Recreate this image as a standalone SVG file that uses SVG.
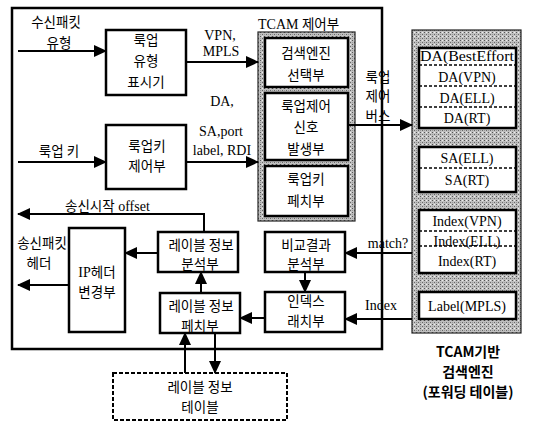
<svg xmlns="http://www.w3.org/2000/svg" width="535" height="422" viewBox="0 0 535 422">
<style>
text{font-family:"Liberation Serif","Noto Sans CJK KR",serif;font-size:14px;fill:#000}
.k{font-family:"Noto Sans CJK KR","Liberation Sans",sans-serif;font-size:13.5px}
.c{text-anchor:middle}
.box{fill:#fff;stroke:#000;stroke-width:2.5}
.hat{fill:url(#hp);stroke:#222;stroke-width:1.2}
.ln{fill:none;stroke:#000;stroke-width:2}
.dl{stroke:#000;stroke-width:1.5;stroke-dasharray:3 2}
.cap{font-family:"Noto Sans CJK KR","Liberation Sans",sans-serif;font-weight:bold;font-size:14px}
</style>
<defs>
<pattern id="hp" width="4" height="4" patternUnits="userSpaceOnUse">
<rect width="4" height="4" fill="#c0c0c0"/>
<rect width="1" height="1" fill="#555"/>
<rect x="2" y="2" width="1" height="1" fill="#666"/>
<rect x="2" y="0" width="1" height="1" fill="#eee"/>
<rect x="0" y="2" width="1" height="1" fill="#999"/>
</pattern>
<marker id="ah" markerWidth="13" markerHeight="12" refX="12" refY="6" orient="auto" markerUnits="userSpaceOnUse">
<path d="M0,0 L13,6 L0,12 z" fill="#000"/>
</marker>
</defs>

<g id="outer"><rect x="12" y="8" width="370" height="341" fill="none" stroke="#000" stroke-width="2.5"/></g>

<g id="lookup-type">
<rect class="box" x="106" y="30" width="80" height="65"/>
<text class="k c" x="146" y="45">룩업</text>
<text class="k c" x="146" y="66">유형</text>
<text class="k c" x="146" y="87">표시기</text>
</g>

<g id="lookup-key-ctrl">
<rect class="box" x="106" y="125" width="80" height="64"/>
<text class="k c" x="147" y="151">룩업키</text>
<text class="k c" x="147" y="171">제어부</text>
</g>

<g id="tcam-ctrl">
<text x="258" y="29">TCAM <tspan class="k">제어부</tspan></text>
<rect class="hat" x="258" y="32" width="97" height="189"/>
<rect class="box" x="265" y="38" width="83" height="49"/>
<text class="k c" x="306" y="58">검색엔진</text>
<text class="k c" x="306" y="80">선택부</text>
<rect class="box" x="265" y="93" width="83" height="67"/>
<text class="k c" x="306" y="111">룩업제어</text>
<text class="k c" x="306" y="132">신호</text>
<text class="k c" x="306" y="154">발생부</text>
<rect class="box" x="265" y="166" width="83" height="50"/>
<text class="k c" x="306" y="184">룩업키</text>
<text class="k c" x="306" y="206">페치부</text>
</g>

<g id="label-analyzer">
<rect class="box" x="158" y="232" width="80" height="40"/>
<text class="k c" x="201" y="250">레이블 정보</text>
<text class="k c" x="200" y="269">분석부</text>
</g>

<g id="ip-header">
<rect class="box" x="69" y="228" width="56" height="104"/>
<text class="c" x="97" y="277">IP<tspan class="k">헤더</tspan></text>
<text class="k c" x="97" y="297">변경부</text>
</g>

<g id="label-fetch">
<rect class="box" x="160" y="293" width="80" height="40"/>
<text class="k c" x="201" y="311">레이블 정보</text>
<text class="k c" x="200" y="331">페치부</text>
</g>

<g id="compare">
<rect class="box" x="265" y="232" width="80" height="40"/>
<text class="k c" x="306" y="250">비교결과</text>
<text class="k c" x="306" y="269">분석부</text>
</g>

<g id="index-latch">
<rect class="box" x="265" y="292" width="80" height="40"/>
<text class="k c" x="306" y="306">인덱스</text>
<text class="k c" x="306" y="326">래치부</text>
</g>

<g id="label-table">
<rect x="113" y="373" width="174" height="47" fill="#fff" stroke="#000" stroke-width="2" stroke-dasharray="4 2"/>
<text class="k c" x="200" y="392">레이블 정보</text>
<text class="k c" x="200" y="412">테이블</text>
</g>

<g id="tcam-engine">
<rect class="hat" x="412" y="30" width="109" height="303"/>
<rect class="box" x="419" y="48" width="97" height="80"/>
<line class="dl" x1="419" y1="65" x2="516" y2="65"/>
<line class="dl" x1="419" y1="86" x2="516" y2="86"/>
<line class="dl" x1="419" y1="107" x2="516" y2="107"/>
<text class="c" x="467" y="61" textLength="94" lengthAdjust="spacingAndGlyphs">DA(BestEffort</text>
<text class="c" x="467" y="82">DA(VPN)</text>
<text class="c" x="467" y="103">DA(ELL)</text>
<text class="c" x="467" y="123">DA(RT)</text>
<rect class="box" x="419" y="147" width="97" height="45"/>
<line class="dl" x1="419" y1="168" x2="516" y2="168"/>
<text class="c" x="467" y="163">SA(ELL)</text>
<text class="c" x="467" y="185">SA(RT)</text>
<rect class="box" x="419" y="210" width="97" height="63"/>
<line class="dl" x1="419" y1="231" x2="516" y2="231"/>
<line class="dl" x1="419" y1="246" x2="516" y2="246"/>
<text class="c" x="467" y="226">Index(VPN)</text>
<text class="c" x="467" y="246">Index(ELL)</text>
<text class="c" x="467" y="266">Index(RT)</text>
<rect class="box" x="419" y="292" width="97" height="27"/>
<text class="c" x="467" y="311">Label(MPLS)</text>
<text class="cap c" x="468" y="357">TCAM기반</text>
<text class="cap c" x="468" y="377">검색엔진</text>
<text class="cap c" x="468" y="397">(포워딩 테이블)</text>
</g>

<g id="connectors">
<line class="ln" x1="18" y1="51" x2="106" y2="51" marker-end="url(#ah)"/>
<line class="ln" x1="186" y1="62" x2="258" y2="62" marker-end="url(#ah)"/>
<line class="ln" x1="18" y1="162" x2="106" y2="162" marker-end="url(#ah)"/>
<line class="ln" x1="186" y1="162" x2="258" y2="162" marker-end="url(#ah)"/>
<line class="ln" x1="348" y1="125" x2="412" y2="125" marker-end="url(#ah)" stroke-width="2.5"/>
<polyline class="ln" points="204,232 204,214 18,214" marker-end="url(#ah)"/>
<line class="ln" x1="158" y1="253" x2="125" y2="253" marker-end="url(#ah)"/>
<line class="ln" x1="69" y1="285" x2="18" y2="285" marker-end="url(#ah)"/>
<line class="ln" x1="201" y1="293" x2="201" y2="272" marker-end="url(#ah)"/>
<line class="ln" x1="265" y1="318" x2="240" y2="318" marker-end="url(#ah)"/>
<line class="ln" x1="305" y1="272" x2="305" y2="292" marker-end="url(#ah)"/>
<line class="ln" x1="412" y1="253" x2="345" y2="253" marker-end="url(#ah)"/>
<line class="ln" x1="412" y1="319" x2="345" y2="319" marker-end="url(#ah)"/>
<line class="ln" x1="185" y1="373" x2="185" y2="333" marker-end="url(#ah)"/>
<line class="ln" x1="215" y1="333" x2="215" y2="373" marker-end="url(#ah)"/>
<text class="k c" x="56" y="27">수신패킷</text>
<text class="k c" x="59" y="48">유형</text>
<text class="c" x="220" y="40">VPN,</text>
<text class="c" x="221" y="56">MPLS</text>
<text class="c" x="222" y="106">DA,</text>
<text class="c" x="221" y="136">SA,port</text>
<text class="c" x="222" y="155">label, RDI</text>
<text class="k c" x="59" y="156">룩업 키</text>
<text class="k c" x="378" y="82">룩업</text>
<text class="k c" x="378" y="101">제어</text>
<text class="k c" x="378" y="121">버스</text>
<text x="65" y="211"><tspan class="k">송신시작</tspan> offset</text>
<text class="k c" x="42" y="248">송신패킷</text>
<text class="k c" x="39" y="268">헤더</text>
<text class="c" x="388" y="248">match?</text>
<text class="c" x="381" y="310">Index</text>
</g>
</svg>
